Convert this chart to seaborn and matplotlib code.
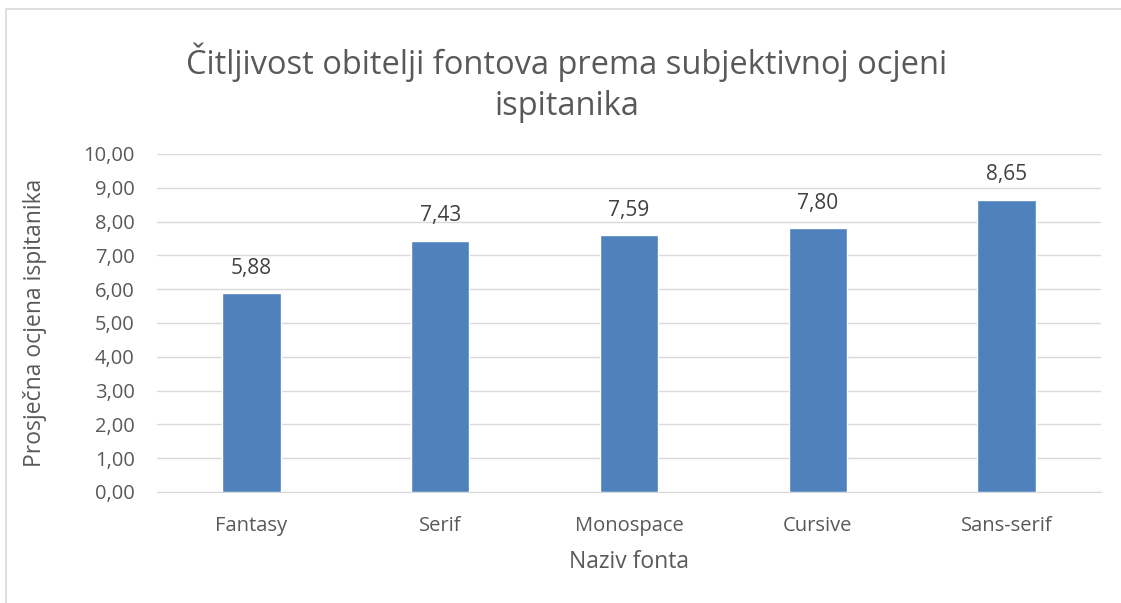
import matplotlib
matplotlib.use('Agg')
import matplotlib.pyplot as plt
import seaborn as sns
import pandas as pd
from matplotlib.patches import Rectangle

# podaci s grafa
fontovi = ['Fantasy', 'Serif', 'Monospace', 'Cursive', 'Sans-serif']
ocjene = [5.88, 7.43, 7.59, 7.80, 8.65]
y_ticks = [0, 1, 2, 3, 4, 5, 6, 7, 8, 9, 10]

sns.set_style('white')
plt.rcParams['font.family'] = ['Open Sans', 'DejaVu Sans']

df = pd.DataFrame({'font': fontovi, 'ocjena': ocjene})

fig = plt.figure(figsize=(11.21, 6.03), dpi=100)
ax = fig.add_axes([157 / 1121, 1 - 492 / 603, (1101 - 157) / 1121, (492 - 154) / 603])

sns.barplot(data=df, x='font', y='ocjena', color='#4F81BD', width=0.31,
            saturation=1, ax=ax, zorder=3)

txt = '#595959'
ax.set_ylim(0, 10)
ax.set_yticks(y_ticks)
ax.set_yticklabels([f'{v:.2f}'.replace('.', ',') for v in y_ticks], fontsize=14.5, color=txt)
ax.tick_params(axis='x', labelsize=14.5, labelcolor=txt, pad=17, length=0)
ax.tick_params(axis='y', length=0, pad=16)
ax.yaxis.grid(True, color='#D9D9D9', linewidth=1, zorder=0)
for s in ['top', 'right', 'left']:
    ax.spines[s].set_visible(False)
ax.spines['bottom'].set_color('#D9D9D9')
ax.set_xlim(-0.5, len(fontovi) - 0.5)

for i, v in enumerate(ocjene):
    ax.text(i, v + 0.74, f'{v:.2f}'.replace('.', ','), ha='center', va='center',
            fontsize=15, color='#404040')

ax.set_xlabel('Naziv fonta', fontsize=16.5, color=txt)
ax.set_ylabel('Prosječna ocjena ispitanika', fontsize=16.5, color=txt)
ax.xaxis.set_label_coords(0.5, -58 / 338)
ax.yaxis.set_label_coords(-110 / 944, 0.5)

fig.text(567 / 1121, 1 - 83 / 603, 'Čitljivost obitelji fontova prema subjektivnoj ocjeni\nispitanika',
         ha='center', va='center', fontsize=23.5, color=txt, linespacing=1.3)

fig.patches.append(Rectangle((6 / 1121, -0.05), 1.1, 1 - 9 / 603 + 0.05, transform=fig.transFigure,
                             fill=False, edgecolor='#D9D9D9', linewidth=1.2))

fig.savefig('out.png', dpi=100)
